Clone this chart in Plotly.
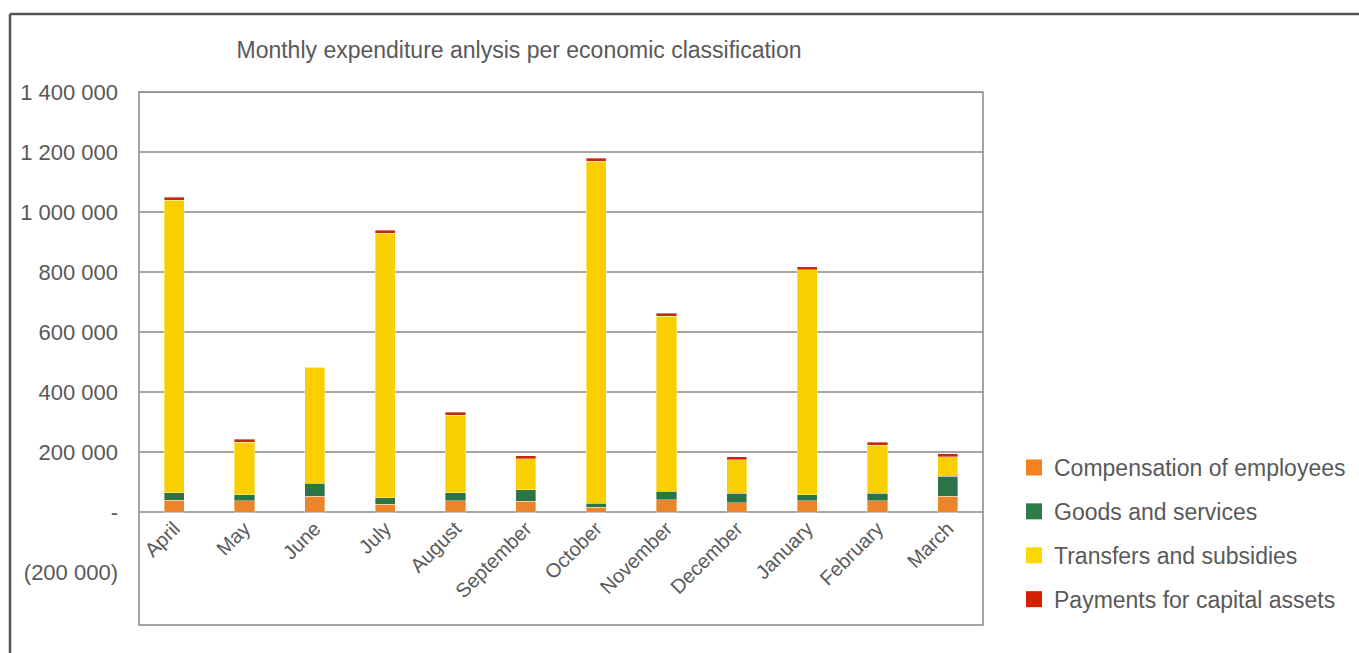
import plotly.graph_objects as go

months = ["April", "May", "June", "July", "August", "September", "October",
          "November", "December", "January", "February", "March"]
compensation = [40000, 37000, 52000, 26000, 38000, 36000, 16000, 41000, 31000, 37000, 37000, 53000]
goods = [24000, 21000, 44000, 21000, 26000, 38000, 14000, 29000, 32000, 20000, 26000, 67000]
transfers = [975000, 175000, 387000, 883000, 259000, 104000, 1140000, 583000, 111000, 750000, 159000, 64000]
capital = [10000, 10000, 2000, 10000, 10000, 10000, 10000, 10000, 10000, 10000, 10000, 10000]

series_names = ["Compensation of employees", "Goods and services",
                "Transfers and subsidies", "Payments for capital assets"]
series_values = [compensation, goods, transfers, capital]
series_colors = ["#EC8429", "#2B7447", "#F9CF00", "#C8260E"]
legend_colors = ["#F58220", "#2E7B4A", "#FFD700", "#D42000"]

tick_vals = [-200000, 0, 200000, 400000, 600000, 800000, 1000000, 1200000, 1400000]
tick_text = ["(200 000)", "-", "200 000", "400 000", "600 000", "800 000",
             "1 000 000", "1 200 000", "1 400 000"]

y_min, y_max = -376667, 1400000
font_family = "Liberation Sans, Arial, sans-serif"
text_color = "#595959"

fig = go.Figure()
for name, vals, col in zip(series_names, series_values, series_colors):
    fig.add_trace(go.Bar(
        x=months, y=vals, name=name, showlegend=False,
        marker=dict(color=col, line=dict(width=0.6, color="rgba(255,255,255,0.6)")),
        width=0.285,
    ))
# legend entries (square swatches)
for name, col in zip(series_names, legend_colors):
    fig.add_trace(go.Scatter(
        x=[None], y=[None], mode="markers", name=name, legendgroup=name,
        marker=dict(symbol="square", size=16, color=col),
    ))

# gridlines only at non-negative ticks
for v in tick_vals:
    if v >= 0:
        fig.add_hline(y=v, line=dict(color="#888888", width=1.5), layer="below")

zero_frac = (0 - y_min) / (y_max - y_min)

fig.update_layout(
    width=1359, height=653,
    barmode="stack",
    plot_bgcolor="white", paper_bgcolor="white",
    margin=dict(l=139, r=376, t=92, b=28, autoexpand=False),
    font=dict(family=font_family, color=text_color),
    title=dict(text="Monthly expenditure anlysis per economic classification",
               x=519 / 1359, xanchor="center", y=1 - 50 / 653, yanchor="middle",
               font=dict(size=23, color=text_color)),
    showlegend=True,
    legend=dict(x=(1014 - 139) / 844, y=(625 - 446) / 533, xanchor="left", yanchor="top",
                traceorder="grouped", tracegroupgap=11,
                font=dict(size=23, color=text_color),
                itemwidth=30, bgcolor="rgba(0,0,0,0)"),
    bargap=0.5,
)
fig.update_xaxes(
    anchor="free", position=zero_frac,
    showgrid=False, showline=False, ticks="",
    tickangle=-45, tickfont=dict(size=20, color=text_color),
)
fig.update_yaxes(
    range=[y_min, y_max], showgrid=False, zeroline=False,
    tickvals=tick_vals, ticktext=tick_text,
    tickfont=dict(size=22, color=text_color),
    ticklabelstandoff=20, ticks="",
)
# plot area border
fig.add_shape(type="rect", xref="paper", yref="paper", x0=0, x1=1, y0=0, y1=1,
              line=dict(color="#888888", width=1.5), layer="below")
# outer frame (top and left edges)
fig.add_shape(type="line", xref="paper", yref="paper",
              x0=-129 / 844, x1=(1359 - 139) / 844, y0=(625 - 14) / 533, y1=(625 - 14) / 533,
              line=dict(color="#555555", width=2.5))
fig.add_shape(type="line", xref="paper", yref="paper",
              x0=-129 / 844, x1=-129 / 844, y0=(625 - 14) / 533, y1=(625 - 660) / 533,
              line=dict(color="#555555", width=2.5))

fig.write_html("out.html")
